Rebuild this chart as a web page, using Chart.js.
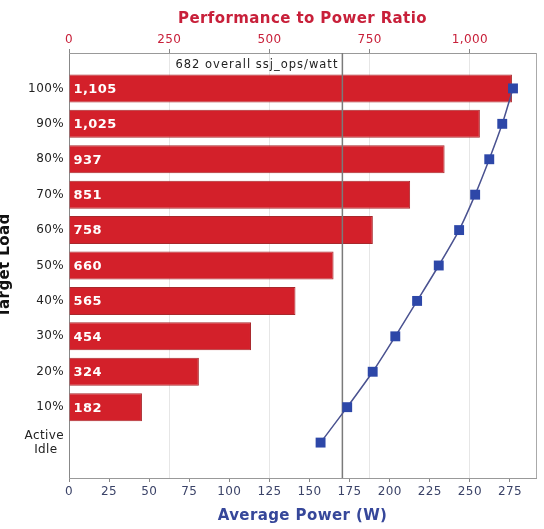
<!DOCTYPE html>
<html><head><meta charset="utf-8">
<script src="https://cdn.jsdelivr.net/npm/chart.js@4"></script>
<style>
html,body{margin:0;padding:0;background:#fff;overflow:hidden;width:544px;height:529px;position:relative}
#c{position:absolute;left:-4px;top:0}
</style></head>
<body><canvas id="c" width="548" height="529"></canvas>
<script>
// ---- data ----
const loads = ['100%','90%','80%','70%','60%','50%','40%','30%','20%','10%','Active Idle'];
const perfToPower = [1105,1025,937,851,758,660,565,454,324,182,null];
const avgPower = [276.9,270.2,262.1,253.3,243.3,230.6,217.1,203.5,189.4,173.5,156.9];
const overallRatio = 682;
const overallLabel = '682 overall ssj_ops/watt';
const ratioTicks = [0,250,500,750,1000];
const powerTicks = [0,25,50,75,100,125,150,175,200,225,250,275];

// padded category list (blank rows above and below)
const catLabels = ['', ...loads, ''];
const barData = [null, ...perfToPower, null];
const lineData = [null, ...avgPower, null];

const overlay = {
  id: 'overlay',
  beforeDraw(chart) {
    chart.ctx.letterSpacing = '0.4px';
  },
  afterDatasetDraw(chart, args) {
    if (args.index !== 0) return;
    const ctx = chart.ctx, ca = chart.chartArea;
    const meta = chart.getDatasetMeta(0);
    ctx.save();
    // bar value labels
    ctx.font = 'bold 13px "DejaVu Sans"';
    ctx.fillStyle = '#ffffff';
    ctx.textAlign = 'left';
    ctx.textBaseline = 'middle';
    meta.data.forEach((el, i) => {
      const v = barData[i];
      if (v == null) return;
      ctx.fillText(v.toLocaleString('en-US'), el.base + 4, el.y + 1);
    });
    // overall ratio line
    const x = chart.scales.x2.getPixelForValue(overallRatio);
    ctx.strokeStyle = '#7a7a7a';
    ctx.lineWidth = 1.5;
    ctx.beginPath();
    ctx.moveTo(x, ca.top);
    ctx.lineTo(x, ca.bottom);
    ctx.stroke();
    ctx.font = '11.5px "DejaVu Sans"';
    ctx.letterSpacing = '1px';
    ctx.fillStyle = '#222';
    ctx.textAlign = 'right';
    ctx.fillText(overallLabel, x - 4, ca.top + 12);
    ctx.restore();
  },
  afterDraw(chart) {
    const ctx = chart.ctx, ca = chart.chartArea;
    ctx.save();
    ctx.strokeStyle = '#aaaaaa';
    ctx.lineWidth = 1;
    ctx.beginPath();
    ctx.moveTo(Math.round(ca.right) + 0.5, ca.top);
    ctx.lineTo(Math.round(ca.right) + 0.5, ca.bottom);
    ctx.stroke();
    ctx.restore();
  }
};

new Chart(document.getElementById('c'), {
  type: 'bar',
  data: {
    labels: catLabels,
    datasets: [
      {
        type: 'bar',
        label: 'Performance to Power Ratio',
        data: barData,
        xAxisID: 'x2',
        yAxisID: 'y',
        backgroundColor: '#d3202a',
        borderColor: '#a8282c',
        borderWidth: 1,
        barPercentage: 0.79,
        categoryPercentage: 1,
        order: 1
      },
      {
        type: 'line',
        label: 'Average Power (W)',
        data: lineData,
        xAxisID: 'x',
        yAxisID: 'y',
        borderColor: '#4a5290',
        borderWidth: 1.5,
        pointStyle: 'rect',
        pointRadius: 7,
        pointBackgroundColor: '#2d47a8',
        pointBorderColor: '#2d47a8',
        pointBorderWidth: 0,
        tension: 0.25,
        order: 0
      }
    ]
  },
  options: {
    indexAxis: 'y',
    responsive: false,
    animation: false,
    devicePixelRatio: 1,
    layout: { padding: { left: 0, right: 8, top: 0, bottom: 0 } },
    plugins: { legend: { display: false }, tooltip: { enabled: false } },
    scales: {
      y: {
        type: 'category',
        position: 'left',
        offset: false,
        afterFit: s => { s.width = 73; },
        grid: { display: false, drawTicks: false },
        border: { color: '#888' },
        ticks: {
          color: '#222',
          font: { family: 'DejaVu Sans', size: 12 },
          padding: 5,
          autoSkip: false,
          callback: function(v, i) {
            const l = catLabels[i];
            return l === 'Active Idle' ? ['Active', 'Idle\u2002'] : l;
          }
        },
        title: {
          display: true, text: 'Target Load', color: '#111',
          font: { family: 'DejaVu Sans', weight: 'bold', size: 15 },
          padding: { top: 0, bottom: 0 }
        }
      },
      x: {
        type: 'linear',
        position: 'bottom',
        min: 0, max: 291.25,
        afterBuildTicks: s => { s.ticks = powerTicks.map(v => ({ value: v })); },
        afterFit: s => { s.height = 51; },
        grid: { drawOnChartArea: false, tickLength: 4, tickColor: '#888' },
        border: { color: '#999' },
        ticks: {
          color: '#3b4368', padding: 3, maxRotation: 0, autoSkip: false,
          font: { family: 'DejaVu Sans', size: 12 }
        },
        title: {
          display: true, text: 'Average Power (W)', color: '#36479a',
          font: { family: 'DejaVu Sans', weight: 'bold', size: 15 },
          padding: { top: 0, bottom: 4 }
        }
      },
      x2: {
        type: 'linear',
        position: 'top',
        min: 0, max: 1165,
        afterBuildTicks: s => { s.ticks = ratioTicks.map(v => ({ value: v })); },
        afterFit: s => { s.height = 53; },
        grid: { color: '#e6e6e6', tickLength: 4, tickColor: '#888' },
        border: { color: '#999' },
        ticks: {
          color: '#c8203a', padding: 2, maxRotation: 0, autoSkip: false,
          font: { family: 'DejaVu Sans', size: 12 }
        },
        title: {
          display: true, text: 'Performance to Power Ratio', color: '#c8203a',
          font: { family: 'DejaVu Sans', weight: 'bold', size: 15 },
          padding: { top: 10, bottom: 0 }
        }
      }
    }
  },
  plugins: [overlay]
});
</script>
</body></html>
